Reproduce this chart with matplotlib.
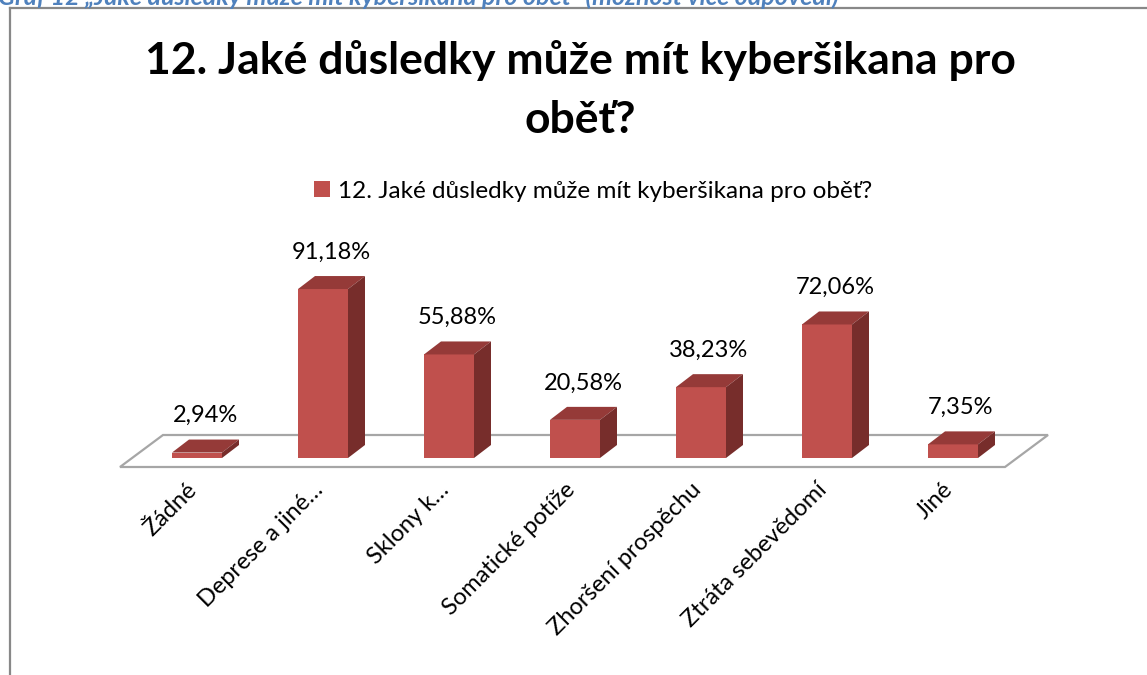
import matplotlib.pyplot as plt
from matplotlib.patches import Polygon
from matplotlib.lines import Line2D

plt.rcParams['font.family'] = ['Lato', 'DejaVu Sans']

# data
categories = ['Žádné', 'Deprese a jiné…', 'Sklony k…', 'Somatické potíže',
              'Zhoršení prospěchu', 'Ztráta sebevědomí', 'Jiné']
values = [2.94, 91.18, 55.88, 20.58, 38.23, 72.06, 7.35]
value_labels = ['2,94%', '91,18%', '55,88%', '20,58%', '38,23%', '72,06%', '7,35%']
title = '12. Jaké důsledky může mít kyberšikana pro\noběť?'
series_name = '12. Jaké důsledky může mít kyberšikana pro oběť?'
caption = 'Graf 12 „Jaké důsledky může mít kyberšikana pro oběť“ (možnost více odpovědí)'

W, H = 1147, 675
fig = plt.figure(figsize=(W / 100, H / 100), dpi=100)

# plot area in pixels (from top-left)
px_l, px_r, py_t, py_b = 120, 1050, 240, 480
ax = fig.add_axes([px_l / W, 1 - py_b / H, (px_r - px_l) / W, (py_b - py_t) / H])
x0, step = 197, 126          # first bar centre / spacing in px
base, scale = 458, 1.853     # baseline px / px per percent
ax.set_xlim((px_l - x0) / step, (px_r - x0) / step)
ax.set_ylim((base - py_b) / scale, (base - py_t) / scale)
ax.axis('off')

front = '#C0504D'
top_c = '#953A38'
side_c = '#772D2B'
w = 50 / step
ddx, ddy = 17 / step, 13 / scale

# floor
fx = lambda p: (p - x0) / step
fy = lambda p: (base - p) / scale
floor = Polygon([(fx(120), fy(467)), (fx(1005), fy(467)), (fx(1048), fy(435)), (fx(163), fy(435))],
                closed=True, facecolor='white', edgecolor='#A6A6A6', lw=1.6, zorder=1, clip_on=False)
ax.add_patch(floor)

xs = list(range(len(categories)))
bars = ax.bar(xs, values, width=w, color=front, zorder=3, label=series_name, clip_on=False)
for x, v in zip(xs, values):
    l, r = x - w / 2, x + w / 2
    ax.add_patch(Polygon([(l, v), (r, v), (r + ddx, v + ddy), (l + ddx, v + ddy)],
                         facecolor=top_c, edgecolor='none', zorder=3, clip_on=False))
    ax.add_patch(Polygon([(r, 0), (r + ddx, ddy), (r + ddx, v + ddy), (r, v)],
                         facecolor=side_c, edgecolor='none', zorder=3, clip_on=False))

for x, v, t in zip(xs, values, value_labels):
    ax.text(x + 8 / step, v + 37 / scale, t, ha='center', va='center', fontsize=17, color='black')

for x, c in zip(xs, categories):
    ax.text(x - 11 / step, fy(479), c, rotation=45, rotation_mode='anchor',
            ha='right', va='top', fontsize=17, color='black')

fig.text(580 / W, 1 - 90 / H, title, ha='center', va='center', fontsize=32,
         fontweight='bold', linespacing=1.55)

fig.legend(handles=[bars], loc='center', bbox_to_anchor=(593 / W, 1 - 191 / H), frameon=False,
           fontsize=17.5, handlelength=0.65, handleheight=0.65, handletextpad=0.35)

fig.text(-2 / W, 1 - 5 / H, caption, ha='left', va='baseline', fontsize=18,
         fontweight='bold', fontstyle='italic', color='#4F81BD')

# frame of the chart object
fig.add_artist(Line2D([9.5 / W, 9.5 / W], [0, 1 - 7.5 / H], color='#888888', lw=1.6))
fig.add_artist(Line2D([9.5 / W, 1], [1 - 7.5 / H, 1 - 7.5 / H], color='#888888', lw=1.6))

fig.savefig('out.png', dpi=100)
